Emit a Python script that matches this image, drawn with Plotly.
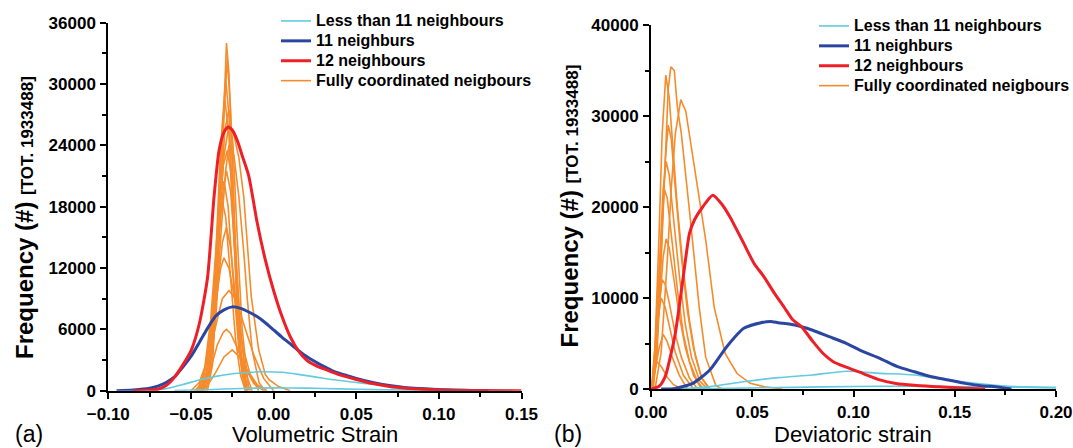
import plotly.graph_objects as go

# ---------------- Panel (a): volumetric strain ----------------
VOL_LESS11_X = [-0.075, -0.065, -0.055, -0.045, -0.035, -0.025, -0.015, -0.005, 0.005, 0.015, 0.025,
                0.035, 0.045, 0.055, 0.065, 0.075, 0.085, 0.095, 0.105, 0.115, 0.125, 0.135, 0.145]
VOL_LESS11_Y = [30, 200, 600, 1050, 1400, 1650, 1800, 1850, 1800, 1600, 1350,
                1100, 900, 720, 560, 420, 320, 230, 160, 110, 70, 40, 20]
VOL_LESS11B_X = [-0.06, -0.04, -0.02, 0.0, 0.02, 0.04, 0.06, 0.08, 0.10, 0.12]
VOL_LESS11B_Y = [20, 100, 220, 280, 250, 180, 110, 60, 30, 10]

VOL_11_X = [-0.095, -0.085, -0.075, -0.07, -0.065, -0.06, -0.055, -0.05, -0.045, -0.04, -0.035, -0.03,
            -0.025, -0.02, -0.015, -0.01, -0.005, 0.0, 0.005, 0.01, 0.015, 0.02, 0.025, 0.03, 0.035,
            0.04, 0.045, 0.05, 0.06, 0.07, 0.08, 0.09, 0.10, 0.11, 0.12, 0.13]
VOL_11_Y = [0, 80, 250, 450, 800, 1350, 2300, 3350, 4700, 6100, 7300, 7900,
            8200, 8050, 7700, 7250, 6650, 5950, 5250, 4600, 3950, 3350, 2850, 2400, 2000,
            1700, 1450, 1200, 800, 500, 300, 180, 100, 50, 20, 0]

VOL_12_X = [-0.085, -0.07, -0.065, -0.06, -0.055, -0.05, -0.045, -0.04, -0.036, -0.033, -0.030, -0.0275,
            -0.025, -0.022, -0.019, -0.015, -0.010, -0.005, 0.0, 0.005, 0.010, 0.015, 0.020, 0.025,
            0.030, 0.035, 0.040, 0.050, 0.060, 0.070, 0.080, 0.090, 0.100, 0.115, 0.150]
VOL_12_Y = [0, 150, 500, 1300, 2500, 3900, 6500, 11000, 19000, 23500, 25300, 25800,
            25500, 24500, 23000, 21000, 16500, 12800, 9800, 7300, 5300, 3900, 3000, 2500,
            2150, 1850, 1550, 1100, 700, 420, 250, 150, 80, 30, 0]

VOL_FULL_X = [
    [-0.040, -0.037, -0.034, -0.032, -0.030, -0.0285, -0.027, -0.025, -0.023, -0.021, -0.019, -0.016],
    [-0.041, -0.038, -0.035, -0.032, -0.030, -0.028, -0.026, -0.024, -0.022, -0.020, -0.017],
    [-0.042, -0.039, -0.036, -0.033, -0.031, -0.029, -0.027, -0.025, -0.022, -0.019, -0.016],
    [-0.043, -0.040, -0.037, -0.034, -0.032, -0.0295, -0.027, -0.025, -0.022, -0.019, -0.016],
    [-0.044, -0.040, -0.036, -0.033, -0.030, -0.027, -0.024, -0.021, -0.018, -0.0135, -0.009, -0.005, -0.0027, 0.003, 0.010],
    [-0.043, -0.039, -0.035, -0.032, -0.029, -0.027, -0.024, -0.021, -0.018, -0.016, -0.013, -0.0088, -0.005],
    [-0.045, -0.041, -0.037, -0.034, -0.031, -0.0285, -0.026, -0.023, -0.020, -0.017, -0.013],
    [-0.046, -0.042, -0.038, -0.035, -0.033, -0.031, -0.029, -0.026, -0.023, -0.020, -0.017],
    [-0.045, -0.041, -0.037, -0.034, -0.031, -0.0285, -0.026, -0.023, -0.020, -0.017, -0.014],
    [-0.047, -0.043, -0.039, -0.035, -0.032, -0.030, -0.027, -0.023, -0.019, -0.014, -0.009],
    [-0.050, -0.045, -0.040, -0.035, -0.031, -0.027, -0.023, -0.018, -0.012, -0.006, 0.000],
    [-0.048, -0.043, -0.038, -0.034, -0.0305, -0.0285, -0.026, -0.022, -0.017, -0.012, -0.006],
    [-0.045, -0.040, -0.035, -0.030, -0.025, -0.020, -0.015, -0.010, -0.004],
    [-0.044, -0.040, -0.036, -0.033, -0.0305, -0.028, -0.0255, -0.023, -0.020, -0.016],
    [-0.043, -0.039, -0.035, -0.032, -0.0295, -0.027, -0.0245, -0.022, -0.019, -0.015],
    [-0.046, -0.042, -0.038, -0.035, -0.0325, -0.030, -0.0275, -0.025, -0.021, -0.017],
]
VOL_FULL_Y = [
    [0, 2500, 11000, 20000, 29000, 34000, 31000, 22000, 12000, 5000, 1500, 0],
    [0, 2000, 8000, 19000, 27000, 32500, 27500, 18000, 9000, 3000, 0],
    [0, 2000, 7500, 18000, 26000, 30500, 27000, 19000, 8000, 2000, 0],
    [0, 1500, 6000, 16000, 24000, 28500, 25000, 18000, 8500, 2500, 0],
    [0, 2000, 9000, 17000, 23000, 26000, 25000, 22800, 18900, 9200, 4000, 1600, 1070, 400, 0],
    [0, 1500, 7000, 15000, 21500, 24000, 23000, 19000, 13500, 9150, 4000, 780, 0],
    [0, 1500, 6000, 13000, 19000, 21500, 19500, 13000, 6000, 1800, 0],
    [0, 1500, 6000, 12500, 16500, 18500, 17000, 11000, 5000, 1500, 0],
    [0, 1200, 5000, 10000, 14500, 16000, 14000, 9000, 4000, 1000, 0],
    [0, 1000, 4000, 8500, 12000, 13000, 12000, 8500, 4500, 1500, 0],
    [0, 800, 3000, 6500, 9000, 9800, 9000, 6500, 3500, 1200, 0],
    [0, 600, 2200, 4500, 5700, 6000, 5600, 4200, 2200, 700, 0],
    [0, 500, 1800, 3300, 4000, 3200, 1800, 600, 0],
    [0, 2000, 8000, 16000, 22000, 23500, 21000, 14000, 6000, 0],
    [0, 2500, 10000, 19000, 25500, 27500, 24000, 15000, 6000, 0],
    [0, 1800, 7000, 14000, 19000, 20500, 18000, 12000, 4000, 0],
]

# ---------------- Panel (b): deviatoric strain ----------------
DEV_LESS11_X = [0.015, 0.029, 0.0458, 0.0627, 0.0795, 0.0964, 0.113, 0.130, 0.147, 0.164, 0.180, 0.200]
DEV_LESS11_Y = [0, 260, 800, 1250, 1540, 1950, 1720, 1540, 990, 550, 260, 150]
DEV_LESS11B_X = [0.01, 0.04, 0.07, 0.10, 0.13, 0.16, 0.19, 0.20]
DEV_LESS11B_Y = [0, 80, 180, 280, 300, 250, 180, 150]

DEV_11_X = [0.005, 0.012, 0.0206, 0.029, 0.0374, 0.0458, 0.0543, 0.060, 0.0627, 0.071, 0.0795, 0.088,
            0.0964, 0.1048, 0.113, 0.1217, 0.130, 0.1385, 0.147, 0.155, 0.164, 0.170, 0.178]
DEV_11_Y = [0, 70, 620, 2090, 4650, 6670, 7290, 7400, 7290, 7030, 6480, 5750,
            5020, 4100, 3370, 2450, 1900, 1350, 990, 620, 330, 250, 0]

DEV_12_X = [0.0, 0.004, 0.007, 0.0095, 0.012, 0.0155, 0.019, 0.0215, 0.0255, 0.0305, 0.035, 0.039,
            0.0458, 0.0509, 0.0559, 0.061, 0.066, 0.070, 0.0745, 0.080, 0.085, 0.090, 0.0964, 0.1048,
            0.113, 0.121, 0.130, 0.142, 0.155, 0.165]
DEV_12_Y = [0, 300, 1350, 3500, 6100, 11600, 17100, 18600, 20000, 21300, 20300, 18900,
            16000, 13800, 12300, 10500, 8900, 7600, 6800, 5200, 3900, 3000, 2400, 1700,
            1000, 600, 400, 250, 80, 0]

DEV_FULL_X = [
    [0.001, 0.003, 0.005, 0.007, 0.0085, 0.0098, 0.0115, 0.013, 0.015, 0.0188, 0.0238, 0.027, 0.032, 0.035],
    [0.0005, 0.002, 0.004, 0.0055, 0.0073, 0.009, 0.011, 0.013, 0.016, 0.019, 0.022, 0.025, 0.029],
    [0.002, 0.005, 0.008, 0.010, 0.012, 0.0147, 0.0172, 0.0221, 0.027, 0.0312, 0.0366, 0.0425, 0.049, 0.056, 0.065],
    [0.001, 0.003, 0.005, 0.007, 0.0085, 0.010, 0.012, 0.015, 0.018, 0.021, 0.025, 0.029],
    [0.0005, 0.0025, 0.0045, 0.006, 0.0075, 0.009, 0.011, 0.014, 0.017, 0.020, 0.024, 0.028],
    [0.0005, 0.002, 0.004, 0.0065, 0.008, 0.010, 0.013, 0.016, 0.019, 0.023, 0.026],
    [0.0005, 0.002, 0.004, 0.006, 0.0075, 0.009, 0.011, 0.014, 0.017, 0.021, 0.025],
    [0.0003, 0.002, 0.0035, 0.0055, 0.007, 0.009, 0.012, 0.015, 0.019, 0.023],
    [0.0002, 0.0015, 0.003, 0.005, 0.007, 0.0095, 0.012, 0.016, 0.021],
    [0.0, 0.002, 0.004, 0.006, 0.008, 0.011, 0.014, 0.018],
    [0.0, 0.0015, 0.003, 0.005, 0.008, 0.011, 0.015],
]
DEV_FULL_Y = [
    [0, 4000, 14000, 26000, 33000, 35400, 35000, 31000, 28000, 20000, 9000, 3500, 400, 0],
    [0, 5000, 17000, 28000, 34500, 32000, 26000, 20000, 13000, 7500, 3500, 1200, 0],
    [0, 4000, 14000, 22000, 28000, 31800, 30500, 23700, 16400, 9000, 3900, 1700, 620, 250, 0],
    [0, 5000, 15000, 25000, 29000, 27500, 22000, 14500, 8500, 4500, 1200, 0],
    [0, 5000, 15000, 22000, 25000, 23500, 19000, 12500, 7000, 3500, 900, 0],
    [0, 4500, 13000, 22000, 21000, 17000, 11000, 6000, 3000, 800, 0],
    [0, 3000, 8500, 14500, 16500, 15500, 12500, 8000, 4500, 1500, 0],
    [0, 3500, 8500, 12000, 11500, 9500, 6000, 3500, 1200, 0],
    [0, 3000, 7000, 10000, 9000, 6500, 4000, 1500, 0],
    [0, 2000, 4500, 6000, 5200, 3200, 1500, 0],
    [0, 1800, 3000, 2500, 1300, 500, 0],
]

NAMES = ["Less than 11 neighbours", "11 neighburs", "12 neighbours", "Fully coordinated neigbours"]
C_CYAN, C_BLUE, C_RED, C_ORANGE = "#62cbe0", "#2b46a0", "#ee1f26", "#f68b2c"

FONT = "Liberation Sans, Arial, sans-serif"
W, H = 1073, 448


def lbl(name):
    # legend label rendered at 16px while the legend row height follows a 13px font
    return "<span style='font-size:16px'>" + name + "</span>"


fig = go.Figure()


def add_panel(xa, ya, leg, full_x, full_y, l_x, l_y, lb_x, lb_y, b_x, b_y, r_x, r_y):
    for i, (fx, fy) in enumerate(zip(full_x, full_y)):
        fig.add_trace(go.Scatter(x=fx, y=fy, mode="lines", xaxis=xa, yaxis=ya, legend=leg,
                                 name=lbl(NAMES[3]), showlegend=(i == 0), legendrank=4,
                                 line=dict(color=C_ORANGE, width=1.6)))
    fig.add_trace(go.Scatter(x=lb_x, y=lb_y, mode="lines", xaxis=xa, yaxis=ya, legend=leg,
                             name=lbl(NAMES[0]), showlegend=False,
                             line=dict(color=C_CYAN, width=1.6, shape="spline", smoothing=0.6)))
    fig.add_trace(go.Scatter(x=l_x, y=l_y, mode="lines", xaxis=xa, yaxis=ya, legend=leg,
                             name=lbl(NAMES[0]), legendrank=1,
                             line=dict(color=C_CYAN, width=1.6, shape="spline", smoothing=0.6)))
    fig.add_trace(go.Scatter(x=b_x, y=b_y, mode="lines", xaxis=xa, yaxis=ya, legend=leg,
                             name=lbl(NAMES[1]), legendrank=2,
                             line=dict(color=C_BLUE, width=3, shape="spline", smoothing=0.6)))
    fig.add_trace(go.Scatter(x=r_x, y=r_y, mode="lines", xaxis=xa, yaxis=ya, legend=leg,
                             name=lbl(NAMES[2]), legendrank=3,
                             line=dict(color=C_RED, width=3, shape="spline", smoothing=0.6)))


add_panel("x", "y", "legend", VOL_FULL_X, VOL_FULL_Y, VOL_LESS11_X, VOL_LESS11_Y,
          VOL_LESS11B_X, VOL_LESS11B_Y, VOL_11_X, VOL_11_Y, VOL_12_X, VOL_12_Y)
add_panel("x2", "y2", "legend2", DEV_FULL_X, DEV_FULL_Y, DEV_LESS11_X, DEV_LESS11_Y,
          DEV_LESS11B_X, DEV_LESS11B_Y, DEV_11_X, DEV_11_Y, DEV_12_X, DEV_12_Y)

tickfont = dict(family=FONT, size=17, color="black", weight="bold")
axis_common = dict(showline=True, linecolor="black", linewidth=2, ticks="outside", ticklen=6,
                   tickwidth=2, tickcolor="black", showgrid=False, zeroline=False,
                   tickfont=tickfont, mirror=False, automargin=False, ticklabelstandoff=1)
minor_common = dict(ticks="outside", ticklen=4, tickwidth=1.5, tickcolor="black")

legend_font = dict(family=FONT, size=13, color="black", weight="bold")

fig.update_layout(
    width=W, height=H, autosize=False,
    margin=dict(l=0, r=0, t=0, b=0, autoexpand=False),
    paper_bgcolor="white", plot_bgcolor="white",
    xaxis=dict(domain=[108.3 / W, 521.5 / W], range=[-0.10, 0.15], dtick=0.05, tick0=-0.10,
               tickformat=".2f", anchor="y", minor=dict(dtick=0.025, **minor_common), **axis_common),
    yaxis=dict(domain=[1 - 390.7 / H, 1 - 22.7 / H], range=[0, 36000], dtick=6000, tickformat="d",
               anchor="x", minor=dict(dtick=3000, **minor_common), **axis_common),
    xaxis2=dict(domain=[651 / W, 1056 / W], range=[0, 0.20], dtick=0.05, tickformat=".2f", anchor="y2",
                minor=dict(dtick=0.025, **minor_common), **axis_common),
    yaxis2=dict(domain=[1 - 389 / H, 1 - 25 / H], range=[0, 40000], dtick=10000, tickformat="d",
                anchor="x2", minor=dict(dtick=5000, **minor_common), **axis_common),
    legend=dict(x=276 / W, y=1 - 6 / H, xanchor="left", yanchor="top", bgcolor="rgba(0,0,0,0)",
                font=legend_font, tracegroupgap=0, traceorder="normal"),
    legend2=dict(x=814 / W, y=1 - 11 / H, xanchor="left", yanchor="top", bgcolor="rgba(0,0,0,0)",
                 font=legend_font, tracegroupgap=0, traceorder="normal"),
)

ytitle = "Frequency (#) <span style='font-size:17px'>[TOT. 1933488]</span>"
ann = [
    dict(text=ytitle, x=25 / W, y=1 - 218 / H, textangle=-90, yanchor="middle",
         font=dict(family=FONT, size=24, color="black", weight="bold")),
    dict(text=ytitle, x=569 / W, y=1 - 206.5 / H, textangle=-90, yanchor="middle",
         font=dict(family=FONT, size=24, color="black", weight="bold")),
    dict(text="Volumetric Strain", x=315 / W, y=0, yanchor="bottom", borderpad=0,
         font=dict(family=FONT, size=22, color="black")),
    dict(text="Deviatoric strain", x=853 / W, y=0, yanchor="bottom", borderpad=0,
         font=dict(family=FONT, size=22, color="black")),
    dict(text="(a)", x=29 / W, y=0, yanchor="bottom", borderpad=0,
         font=dict(family=FONT, size=23, color="black")),
    dict(text="(b)", x=568 / W, y=0, yanchor="bottom", borderpad=0,
         font=dict(family=FONT, size=23, color="black")),
]
for a in ann:
    a.update(xref="paper", yref="paper", showarrow=False, xanchor="center")
fig.update_layout(annotations=ann)

fig.write_html("out.html")
